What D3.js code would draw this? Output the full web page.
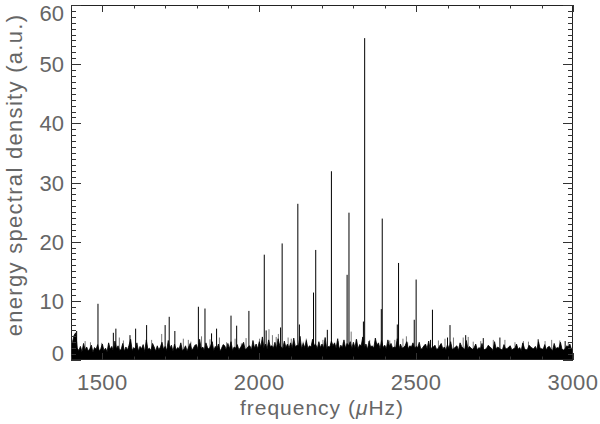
<!DOCTYPE html>
<html><head><meta charset="utf-8">
<script src="https://cdn.jsdelivr.net/npm/d3@7"></script>
<style>body{margin:0;background:#fff}svg{display:block}</style>
</head><body>
<script>
// Spectrum noise envelope, sampled every 5 µHz from 1400 to 3000
const noiseStart = 1400, noiseStep = 5;
const noisePower = [
2.4,3.1,4.2,4.6,2.0,1.6,2.3,1.4,2.8,1.7,2.2,1.5,1.9,2.5,1.3,2.1,1.8,2.6,1.5,1.9,
2.7,1.6,2.0,1.4,2.9,1.8,2.3,1.5,3.2,1.9,2.4,1.6,1.8,2.8,1.5,2.2,1.7,2.5,3.5,1.6,
2.1,1.8,2.9,1.5,2.3,1.9,2.6,1.4,3.4,1.8,2.0,1.6,2.8,2.2,1.5,2.4,1.7,2.2,3.0,1.8,
2.3,1.6,3.3,2.0,2.5,1.5,2.7,1.7,2.1,1.9,2.9,1.6,1.8,2.4,1.5,2.2,2.8,1.7,2.0,2.5,
2.6,1.7,3.5,1.9,2.2,1.6,2.9,2.1,1.8,2.4,3.1,1.6,2.3,1.9,2.7,1.5,2.0,2.6,2.4,1.7,
2.8,1.9,3.1,1.6,2.2,2.0,2.6,1.7,2.1,2.5,3.0,1.8,1.9,2.3,2.4,1.7,3.3,2.0,2.7,1.9,
3.1,2.2,3.9,2.0,2.7,1.8,3.4,2.3,2.4,2.0,3.0,1.9,3.6,2.5,2.2,1.9,3.2,2.1,2.7,2.0,
2.9,2.0,3.7,2.2,2.5,2.4,4.0,1.9,2.8,2.1,3.3,2.0,2.4,2.2,3.5,2.5,2.6,1.9,3.1,2.1,
2.7,2.0,3.8,1.9,2.3,2.2,3.2,2.4,2.9,2.0,3.6,1.8,2.5,2.1,3.4,2.0,2.8,2.4,3.1,1.9,
3.0,2.1,3.5,1.9,2.6,2.4,3.9,2.0,2.7,1.8,3.2,2.2,2.4,2.0,3.7,2.5,2.9,1.9,3.3,2.1,
2.5,1.9,3.4,2.3,2.8,2.0,2.2,2.1,3.6,1.8,2.7,2.0,2.1,2.4,3.1,1.9,2.4,2.2,2.9,2.0,
2.3,2.1,3.0,1.8,2.0,2.4,2.7,1.9,3.2,1.7,2.1,2.2,2.5,1.8,1.9,2.4,2.8,1.9,2.2,1.7,
2.6,1.9,3.1,1.8,1.9,2.2,2.4,1.6,2.9,2.3,2.0,1.8,3.3,1.9,2.3,2.0,1.8,2.1,2.7,1.7,
2.1,1.9,2.8,1.7,1.8,2.0,2.5,2.2,2.0,1.6,3.1,1.9,2.2,2.0,1.8,1.7,2.6,1.9,1.9,2.2,
2.4,1.7,1.9,2.0,2.7,1.8,2.1,1.6,2.9,2.0,1.7,1.8,2.5,2.2,2.0,1.9,2.3,1.7,3.1,2.0,
1.9,1.8,2.6,1.7,2.2,2.3,1.8,1.6,2.8,1.9,2.1,2.0,3.0,1.8,1.7,1.9,2.4,2.2,2.7,1.8,
2.0
];
// Resolved peaks (oscillation modes and tall noise spikes)
const peakFreq  = [1418,1486,1535,1543,1588,1606,1641,1700,1713,1731,1806,1827,1848,1864,1910,1928,1967,
  2016,2022,2068,2073,2123,2128,2173,2180,2217,2230,2280,2286,2332,2336,2389,2392,2440,2444,2494,2500,
  2546,2552,2600,2608,2658,2714,2767,2889,2975];
const peakPower = [4.9,9.5,4.6,5.3,4.2,5.3,5.9,5.9,7.3,4.9,9.0,8.7,4.5,5.3,7.5,5.8,8.3,
  17.8,5.0,5.5,19.7,26.4,6.0,11.4,18.6,5.1,31.9,14.4,24.9,6.5,54.4,8.6,23.9,6.0,16.4,6.8,13.6,
  3.4,8.5,3.8,5.9,4.2,3.7,3.8,3.5,3.2];
// Smaller thin spikes above the noise floor
const spikeFreq  = [1445,1462,1498,1554,1567,1657,1689,1758,1774,1782,1816,1843,1873,1896,1923,1943,1958,
  2001,2031,2042,2054,2061,2092,2102,2140,2150,2203,2251,2268,2293,2309,2352,2373,2416,2432,2458,2469,
  2473,2571,2592,2619,2650,2666,2682,2706,2746,2783,2815,2842,2858,2911,2932,2958,2985];
const spikePower = [3.2,3.0,2.9,3.8,3.3,3.4,4.4,3.6,3.4,3.1,4.0,3.5,3.8,3.0,3.6,2.8,3.7,
  3.6,5.2,4.2,3.9,4.4,3.8,3.6,3.1,3.6,3.4,3.2,3.0,4.8,3.5,3.4,2.9,3.3,3.4,3.6,4.0,
  3.0,3.3,3.6,3.8,3.8,3.9,3.1,3.2,3.4,3.4,3.0,3.2,3.1,3.2,3.4,3.3,3.0];
const xTickValues = [1500,2000,2500,3000];
const yTickValues = [0,10,20,30,40,50,60];
const xLabel = "frequency (", xLabelMu = "\u03bc", xLabelEnd = "Hz)";
const yLabel = "energy spectral density (a.u.)";

const W = 600, H = 424;
const L = 71, R = 573, T = 5, B = 360;
const svg = d3.select("body").append("svg").attr("width", W).attr("height", H);
const x = d3.scaleLinear().domain([1400, 3000]).range([L, R]);
const y = d3.scaleLinear().domain([0, 60]).range([B, T]);

svg.append("clipPath").attr("id","c").append("rect").attr("x",L).attr("y",T).attr("width",R-L).attr("height",B-T);
const g = svg.append("g").attr("clip-path","url(#c)");

g.selectAll("line.sp").data(spikeFreq).join("line").attr("class","sp")
  .attr("x1", d=>x(d)).attr("x2", d=>x(d))
  .attr("y1", y(0)).attr("y2", (d,i)=>y(spikePower[i]))
  .attr("stroke","#777").attr("stroke-width",1);

const area = d3.area().x((d,i)=>x(noiseStart + i*noiseStep)).y0(y(0)).y1(d=>y(d));
g.append("path").datum(noisePower).attr("d", area).attr("fill","#000").attr("stroke","#000").attr("stroke-width",0.8);

g.selectAll("line.pk").data(peakFreq).join("line").attr("class","pk")
  .attr("x1", d=>x(d)).attr("x2", d=>x(d))
  .attr("y1", y(0)).attr("y2", (d,i)=>y(peakPower[i]))
  .attr("stroke","#000").attr("stroke-width",1);

// frame
svg.append("rect").attr("x",L+0.5).attr("y",T+0.5).attr("width",R-L-1).attr("height",B-T-1)
  .attr("fill","none").attr("stroke","#222").attr("stroke-width",1);

const tickCol = "#333";
const xMinor = d3.range(1400, 3001, 100);
xMinor.forEach(v => {
  const major = v % 500 === 0;
  const len = major ? 7 : 3.5;
  const px = Math.round(x(v)) + 0.5;
  svg.append("line").attr("x1",px).attr("x2",px).attr("y1",B).attr("y2",B-len).attr("stroke",tickCol);
  svg.append("line").attr("x1",px).attr("x2",px).attr("y1",T).attr("y2",T+len).attr("stroke",tickCol);
});
const yMinor = d3.range(0, 61, 1);
yMinor.forEach(v => {
  const major = v % 10 === 0;
  const len = major ? 10 : 5;
  const py = Math.round(y(v)) + 0.5;
  svg.append("line").attr("x1",L).attr("x2",L+len).attr("y1",py).attr("y2",py).attr("stroke",tickCol);
  svg.append("line").attr("x1",R).attr("x2",R-len).attr("y1",py).attr("y2",py).attr("stroke",tickCol);
});

const font = "'Liberation Sans', Arial, sans-serif";
const txtCol = "#666";
svg.selectAll("text.xt").data(xTickValues).join("text").attr("class","xt")
  .attr("x", d=>x(d)).attr("y", 390).attr("text-anchor","middle").attr("letter-spacing",0.5)
  .attr("font-family",font).attr("font-size",22).attr("fill",txtCol).text(d=>d);
svg.selectAll("text.yt").data(yTickValues).join("text").attr("class","yt")
  .attr("x", 64).attr("y", d=> d===60 ? y(d)+16 : d===0 ? y(d)+1 : y(d)+8).attr("text-anchor","end")
  .attr("font-family",font).attr("font-size",22).attr("fill",txtCol).text(d=>d);

const xt = svg.append("text").attr("x",(L+R)/2).attr("y",415).attr("text-anchor","middle")
  .attr("font-family",font).attr("font-size",21).attr("fill",txtCol).attr("letter-spacing",1.0);
xt.append("tspan").text(xLabel);
xt.append("tspan").attr("font-style","italic").text(xLabelMu);
xt.append("tspan").text(xLabelEnd);

svg.append("text").attr("transform",`translate(22,175) rotate(-90)`).attr("text-anchor","middle")
  .attr("letter-spacing",1.3)
  .attr("font-family",font).attr("font-size",22).attr("fill",txtCol).text(yLabel);
</script>
</body></html>
